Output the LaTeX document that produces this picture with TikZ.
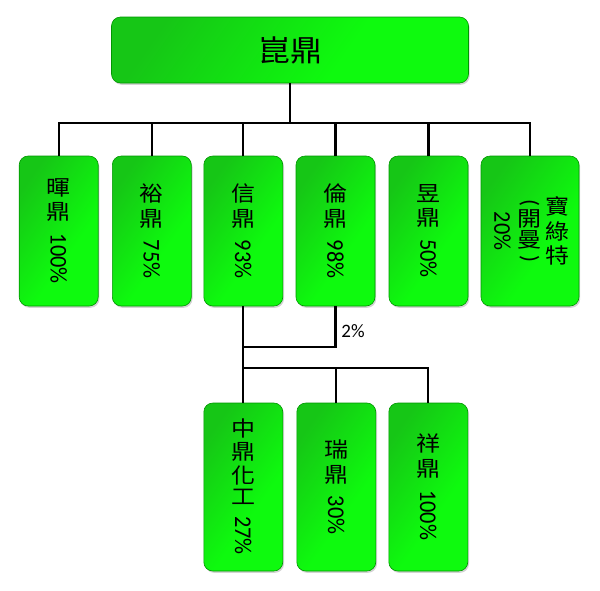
\documentclass[tikz,border=0pt]{standalone}
\usepackage{fontspec}
\setmainfont{Carlito}
\newfontfamily\cjk{Noto Sans CJK TC}
\usepackage{graphicx}
\usetikzlibrary{shadows}
\definecolor{gdark}{RGB}{22,198,22}
\definecolor{glight}{RGB}{14,250,14}
\definecolor{gedge}{RGB}{0,150,0}
\pgfdeclarehorizontalshading{greenbox}{100bp}{color(0bp)=(gdark); color(25bp)=(gdark); color(60bp)=(glight); color(100bp)=(glight)}
\newcommand\ch[1]{\hbox to 25pt{\hss#1\hss}}
\newcommand\cc[1]{\ch{\scalebox{1}[0.88]{\fontsize{24}{26}\selectfont\cjk #1}}}
\newcommand\rt[1]{\ch{\rotatebox{-90}{\scalebox{0.93}[1]{\fontsize{24}{26}\selectfont #1}}}}
\newcommand\rp[1]{\ch{\rotatebox{-90}{\fontsize{23}{26}\selectfont #1}}}
\newcommand\vcol[1]{$\vcenter{\offinterlineskip #1}$}
\tikzset{
  box/.style={draw=gedge, line width=0.6pt, rounded corners=9pt,
    shading=greenbox, shading angle=-35, inner sep=0pt,
    drop shadow={opacity=0.35, shadow xshift=1.2pt, shadow yshift=-1.8pt}},
  rowbox/.style={box, minimum width=79pt, minimum height=150pt},
  lowbox/.style={box, minimum width=79pt, minimum height=168pt},
  conn/.style={line width=2.2pt, black},
  lbl/.style={inner sep=0pt, font=\fontsize{19}{22}\selectfont}
}
\begin{document}
\begin{tikzpicture}[x=1pt, y=-1pt]
\useasboundingbox (0,0) rectangle (600,590);
\node[box, minimum width=357pt, minimum height=66pt] (top) at (290,50) {\scalebox{1}[0.92]{\fontsize{32}{34}\selectfont\cjk 崑鼎}};
\node[rowbox] (b1) at (58.7,231) {\vcol{\cc{暉}\kern6pt\cc{鼎}\kern12pt\rt{100\%}}};
\node[rowbox] (b2) at (151.8,231) {\vcol{\cc{裕}\kern6pt\cc{鼎}\kern12pt\rt{75\%}}};
\node[rowbox] (b3) at (243.3,231) {\vcol{\cc{信}\kern6pt\cc{鼎}\kern12pt\rt{93\%}}};
\node[rowbox] (b4) at (335.5,231) {\vcol{\cc{倫}\kern6pt\cc{鼎}\kern12pt\rt{98\%}}};
\node[rowbox] (b5) at (428.5,231) {\vcol{\cc{昱}\kern6pt\cc{鼎}\kern12pt\rt{50\%}}};
\node[rowbox, minimum width=98pt] (b6) at (530,231) {\vcol{\rt{20\%}}\kern2pt\vcol{\rp{(}\kern3pt\cc{開}\kern3pt\cc{曼}\kern6pt\rp{)}}\kern3pt\vcol{\cc{寶}\kern5pt\cc{綠}\kern5pt\cc{特}}};
\node[lowbox] (c1) at (243.3,487) {\vcol{\cc{中}\kern4pt\cc{鼎}\kern4pt\cc{化}\kern4pt\cc{工}\kern12pt\rt{27\%}}};
\node[lowbox] (c2) at (336.3,487) {\vcol{\cc{瑞}\kern6pt\cc{鼎}\kern12pt\rt{30\%}}};
\node[lowbox] (c3) at (428.3,487) {\vcol{\cc{祥}\kern6pt\cc{鼎}\kern12pt\rt{100\%}}};
\foreach \b in {b1,b2,b3,b4,b5,b6}
  \draw[conn] (top.south) -- ++(0,40) -| (\b.north);
\coordinate (j1) at (243.3,347);
\coordinate (j2) at (243.3,368);
\draw[conn] (b3.south) -- (c1.north);
\draw[conn] (b4.south) |- (j1);
\draw[conn] (j2) -| (c2.north);
\draw[conn] (j2) -| (c3.north);
\node[lbl] (pct) at (353,331) {2\%};
\end{tikzpicture}
\end{document}
